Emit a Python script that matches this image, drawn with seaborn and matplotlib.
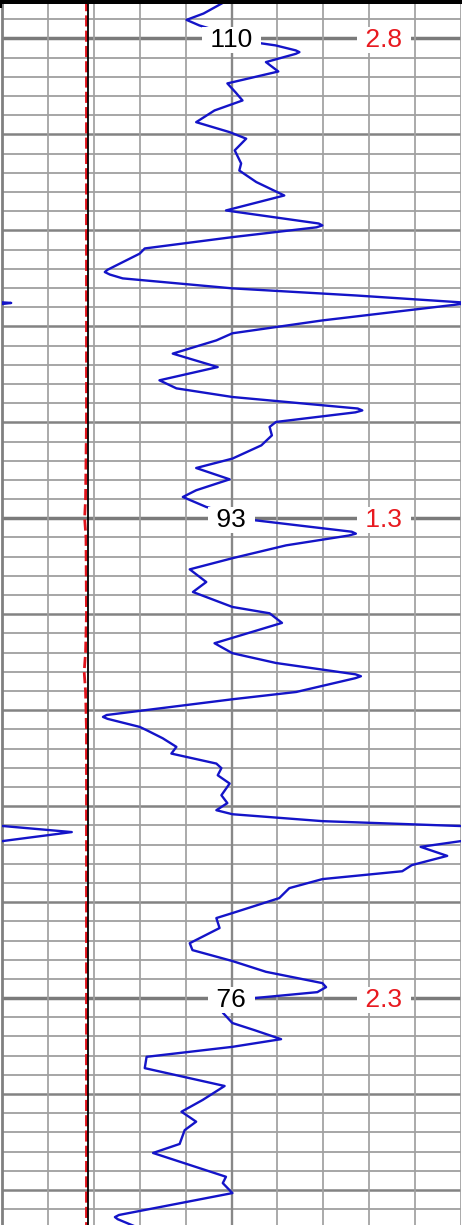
import matplotlib
matplotlib.use("Agg")
import matplotlib.pyplot as plt
import seaborn as sns
import numpy as np
import pandas as pd

# depth in grid divisions (0 = first labelled line), value in track divisions (0..10)
log_depth = [-1.88, -1.30, -0.97, -0.68, -0.21, 0.24, 0.36, 0.62, 0.71, 0.80,
             1.23, 1.72, 2.34, 2.81, 3.23, 3.75, 4.36, 4.88, 5.22, 5.83,
             6.51, 6.88, 7.48, 8.18, 8.96, 9.64, 9.74, 9.84, 10.35, 10.94,
             11.21, 12.05, 12.17, 12.30, 12.50, 13.02, 13.39, 13.78, 14.69, 15.36,
             15.73, 16.42, 17.12, 17.81, 18.23, 18.68, 19.28, 19.38, 19.48, 19.98,
             20.24, 20.68, 21.20, 21.89, 22.38, 22.97, 23.54, 23.89, 24.41, 24.74,
             25.10, 25.70, 25.80, 25.90, 26.41, 27.08, 27.66, 28.32, 28.84, 29.62,
             29.95, 30.45, 31.51, 32.03, 32.54, 33.13, 33.23, 33.33, 34.05, 34.43,
             35.25, 35.35, 35.45, 35.87, 36.04, 36.46, 36.91, 37.26, 37.78, 38.02,
             38.39, 38.82, 39.43, 39.84, 40.21, 40.42, 40.78, 41.03, 41.35, 41.82,
             42.12, 42.59, 43.07, 43.39, 43.80, 44.27, 44.79, 45.57, 45.83, 46.35,
             47.14, 47.50, 48.07, 48.63, 49.22, 49.43, 49.69, 50.00, 50.36, 50.76,
             51.30, 51.67, 52.14, 52.54, 53.06, 53.65, 54.58, 55.31, 55.92, 56.44,
             56.88, 57.60, 58.07, 59.31, 59.64, 60.16, 61.30, 61.41, 61.52, 61.82,
             62.19]
log_value = [4.83, 4.39, 4.02, 4.30, 4.96, 5.61, 5.96, 6.40, 6.48, 6.40,
             5.75, 6.02, 4.91, 5.09, 5.24, 4.63, 4.23, 4.96, 5.32, 5.07,
             5.21, 5.17, 5.54, 6.15, 4.88, 6.90, 6.98, 6.85, 5.02, 3.11,
             3.00, 2.30, 2.24, 2.35, 2.63, 5.02, 7.71, 10.20, 6.98, 5.02,
             4.67, 3.72, 4.70, 3.43, 3.80, 5.02, 7.75, 7.85, 7.70, 5.97,
             5.83, 5.88, 5.65, 5.02, 4.23, 4.96, 4.23, 3.94, 4.45, 4.96,
             5.50, 7.62, 7.71, 7.55, 6.19, 5.02, 4.09, 4.45, 4.16, 5.02,
             5.83, 6.10, 4.63, 5.02, 5.97, 7.70, 7.82, 7.70, 6.41, 5.02,
             2.28, 2.20, 2.30, 3.00, 3.15, 3.50, 3.80, 3.69, 4.67, 4.78,
             4.70, 4.96, 4.78, 4.91, 4.67, 5.02, 6.98, 10.00, 11.52, 10.00,
             9.12, 9.70, 8.93, 8.72, 6.98, 6.26, 6.04, 5.02, 4.67, 4.74,
             4.09, 4.15, 5.02, 5.75, 6.98, 7.06, 6.87, 5.50, 5.00, 4.81,
             5.02, 5.50, 6.08, 5.02, 3.15, 3.11, 4.85, 4.37, 3.91, 4.23,
             3.98, 3.87, 3.29, 4.88, 4.81, 5.02, 2.55, 2.46, 2.52, 2.82,
             3.20]

red_depth = [-2.0, 20.0, 24.0, 25.0, 26.0, 30.0, 32.0, 33.0, 34.0, 36.0, 62.0]
red_value = [1.84, 1.84, 1.82, 1.80, 1.83, 1.84, 1.82, 1.79, 1.82, 1.84, 1.84]

black_depth = [-2.0, 62.0]
black_value = [1.875, 1.875]

label_depth = [0, 25, 50]
depth_labels = ["110", "93", "76"]
red_labels = ["2.8", "1.3", "2.3"]

W, H = 462, 1225
sns.set_style("white")
plt.rcParams['font.family'] = ['Liberation Sans', 'DejaVu Sans']

fig = plt.figure(figsize=(W / 100, H / 100), dpi=100)
ax = fig.add_axes([2 / W, 0, 459 / W, (H - 3.5) / H])

top, bottom = -1.823, 61.823

# grid
for d in range(-1, 62):
    if d % 25 == 0:
        ax.axhline(d, color='#7a7a7a', lw=2.5, zorder=1)
    elif d % 5 == 0:
        ax.axhline(d, color='#838383', lw=1.8, zorder=1)
    else:
        ax.axhline(d, color='#939393', lw=1.15, zorder=1)
for u in range(0, 11):
    if u == 5:
        ax.axvline(u, color='#888888', lw=1.7, zorder=1)
    else:
        ax.axvline(u, color='#a0a0a0', lw=1.25, zorder=1)

# curves
red_df = pd.DataFrame({"depth": red_depth, "value": red_value})
sns.lineplot(data=red_df, x="value", y="depth", sort=False, estimator=None,
             orient="y", color='#e0141c', lw=2.0, ax=ax, zorder=3)
ax.lines[-1].set_dashes((4, 1.5))
black_df = pd.DataFrame({"depth": black_depth, "value": black_value})
sns.lineplot(data=black_df, x="value", y="depth", sort=False, estimator=None,
             orient="y", color='black', lw=1.3, ax=ax, zorder=4)

log_df = pd.DataFrame({"depth": log_depth, "value": log_value})
sns.lineplot(data=log_df, x="value", y="depth", sort=False, estimator=None,
             orient="y", color='#1414c8', lw=1.7, ax=ax, zorder=5)
ax.lines[-1].set_solid_joinstyle('round')
# wrap-around of the part above full scale
wrap_df = log_df.assign(value=log_df["value"] - 10)
sns.lineplot(data=wrap_df, x="value", y="depth", sort=False, estimator=None,
             orient="y", color='#1414c8', lw=1.7, ax=ax, zorder=5)
ax.lines[-1].set_solid_joinstyle('round')

for d, lab, rlab in zip(label_depth, depth_labels, red_labels):
    ax.text(5, d + 0.1, " " + lab + " ", ha='center', va='center', fontsize=19,
            color='black', zorder=6,
            bbox=dict(boxstyle='square,pad=0.04', fc='white', ec='none'))
    ax.text(8.32, d + 0.1, " " + rlab + " ", ha='center', va='center', fontsize=19,
            color='#e8191f', zorder=6,
            bbox=dict(boxstyle='square,pad=0.04', fc='white', ec='none'))

ax.set_xlim(0, 10)
ax.set_ylim(bottom, top)
ax.set_xticks([])
ax.set_yticks([])
ax.set_xlabel("")
ax.set_ylabel("")
for side in ['top', 'right', 'bottom']:
    ax.spines[side].set_visible(False)
ax.spines['left'].set_color('#808080')
ax.spines['left'].set_linewidth(2.0)

# black border line along the top
fig.add_artist(plt.Rectangle((0, 1 - 3.5 / H), 1, 3.5 / H, transform=fig.transFigure,
                             color='black', lw=0))
fig.add_artist(plt.Rectangle((0, 1 - 8 / H), 2 / W, 8 / H, transform=fig.transFigure,
                             color='black', lw=0))

fig.savefig("out.png", dpi=100)
